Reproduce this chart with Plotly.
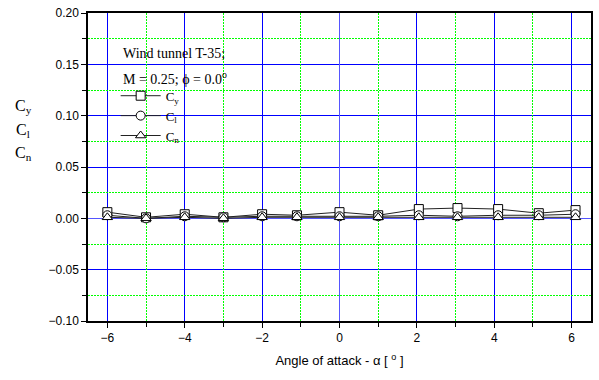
import plotly.graph_objects as go

alpha = [-6.0, -5.0, -4.0, -3.0, -2.0, -1.1, 0.0, 1.0, 2.05, 3.05, 4.1, 5.15, 6.1]
cy = [0.006, 0.001, 0.004, 0.001, 0.004, 0.003, 0.006, 0.003, 0.009, 0.010, 0.009, 0.005, 0.008]
cl = [0.003, 0.000, 0.002, 0.001, 0.002, 0.002, 0.002, 0.002, 0.003, 0.002, 0.003, 0.003, 0.004]
cn = [0.001, 0.000, 0.001, 0.000, 0.001, 0.001, 0.001, 0.001, 0.001, 0.001, 0.001, 0.001, 0.001]

series = [
    ("C<sub>y</sub>", cy, "square"),
    ("C<sub>l</sub>", cl, "circle"),
    ("C<sub>n</sub>", cn, "triangle-up"),
]

fig = go.Figure()
# invisible trace on overlay axes to carry the green minor grid
fig.add_trace(go.Scatter(x=[None], y=[None], xaxis="x2", yaxis="y2",
                         showlegend=False, hoverinfo="skip"))
for name, vals, sym in series:
    fig.add_trace(go.Scatter(
        x=alpha, y=vals, name=name, mode="lines+markers",
        line=dict(color="#222222", width=1),
        marker=dict(symbol=sym, size=9, color="white",
                    line=dict(color="black", width=1)),
    ))

serif = "Liberation Serif, Times New Roman, serif"
sans = "Liberation Sans, Arial, sans-serif"
green = "#00ff00"

fig.update_layout(
    width=599, height=380,
    margin=dict(l=88, r=6, t=13, b=59),
    paper_bgcolor="white", plot_bgcolor="white",
    showlegend=True,
    legend=dict(x=0.055, y=0.78, xanchor="left", yanchor="top",
                bgcolor="rgba(0,0,0,0)", borderwidth=0,
                font=dict(family=serif, size=13, color="black"),
                tracegroupgap=0, itemwidth=40),
    xaxis2=dict(range=[-6.5, 6.5], tickmode="linear", tick0=1, dtick=2,
                showgrid=True, gridcolor=green, griddash="2px,1px",
                gridwidth=1, zeroline=False, showticklabels=False,
                ticks="", overlaying="x", side="top", layer="below traces"),
    yaxis2=dict(range=[-0.10, 0.20], tickmode="linear", tick0=0.025,
                dtick=0.05, showgrid=True, gridcolor=green,
                griddash="2px,1px", gridwidth=1, zeroline=False,
                showticklabels=False, ticks="", overlaying="y",
                side="right", layer="below traces"),
    xaxis=dict(
        range=[-6.5, 6.5], tickmode="linear", tick0=0, dtick=2,
        showgrid=True, gridcolor="#0000ff", gridwidth=1,
        zeroline=True, zerolinecolor="#5555ff", zerolinewidth=1,
        showline=True, linecolor="black", linewidth=1.5, mirror=True,
        ticks="outside", ticklen=5, tickcolor="black",
        tickfont=dict(family=sans, size=12, color="black"),
        minor=dict(tick0=1, dtick=2, showgrid=False, ticks="outside",
                   ticklen=4, tickcolor="black"),
        title=dict(text="Angle of attack - α [ <sup>o</sup> ]",
                   font=dict(family=sans, size=13, color="black"),
                   standoff=12),
    ),
    yaxis=dict(
        range=[-0.10, 0.20], tickmode="linear", tick0=0, dtick=0.05,
        tickformat=".2f",
        showgrid=True, gridcolor="#0000ff", gridwidth=1,
        zeroline=True, zerolinecolor="#5555ff", zerolinewidth=1,
        showline=True, linecolor="black", linewidth=1.5, mirror=True,
        ticks="outside", ticklen=5, tickcolor="black",
        tickfont=dict(family=sans, size=12, color="black"),
        minor=dict(tick0=0.025, dtick=0.05, showgrid=False, ticks="outside",
                   ticklen=4, tickcolor="black"),
    ),
)

# stacked y-axis label
for i, t in enumerate(["C<sub>y</sub>", "C<sub>l</sub>", "C<sub>n</sub>"]):
    fig.add_annotation(text=t, xref="paper", yref="paper",
                       x=-0.129, y=0.695 - i * 0.075, xanchor="center",
                       yanchor="middle", showarrow=False,
                       font=dict(family=serif, size=16, color="black"))

fig.add_annotation(text="Wind tunnel T-35;", xref="paper", yref="paper",
                   x=0.066, y=0.867, xanchor="left", yanchor="middle",
                   showarrow=False, font=dict(family=serif, size=14, color="black"))
fig.add_annotation(text="M = 0.25; ϕ = 0.0<sup>o</sup>", xref="paper", yref="paper",
                   x=0.066, y=0.79, xanchor="left", yanchor="middle",
                   showarrow=False, font=dict(family=serif, size=14, color="black"))

fig.write_html("out.html")
